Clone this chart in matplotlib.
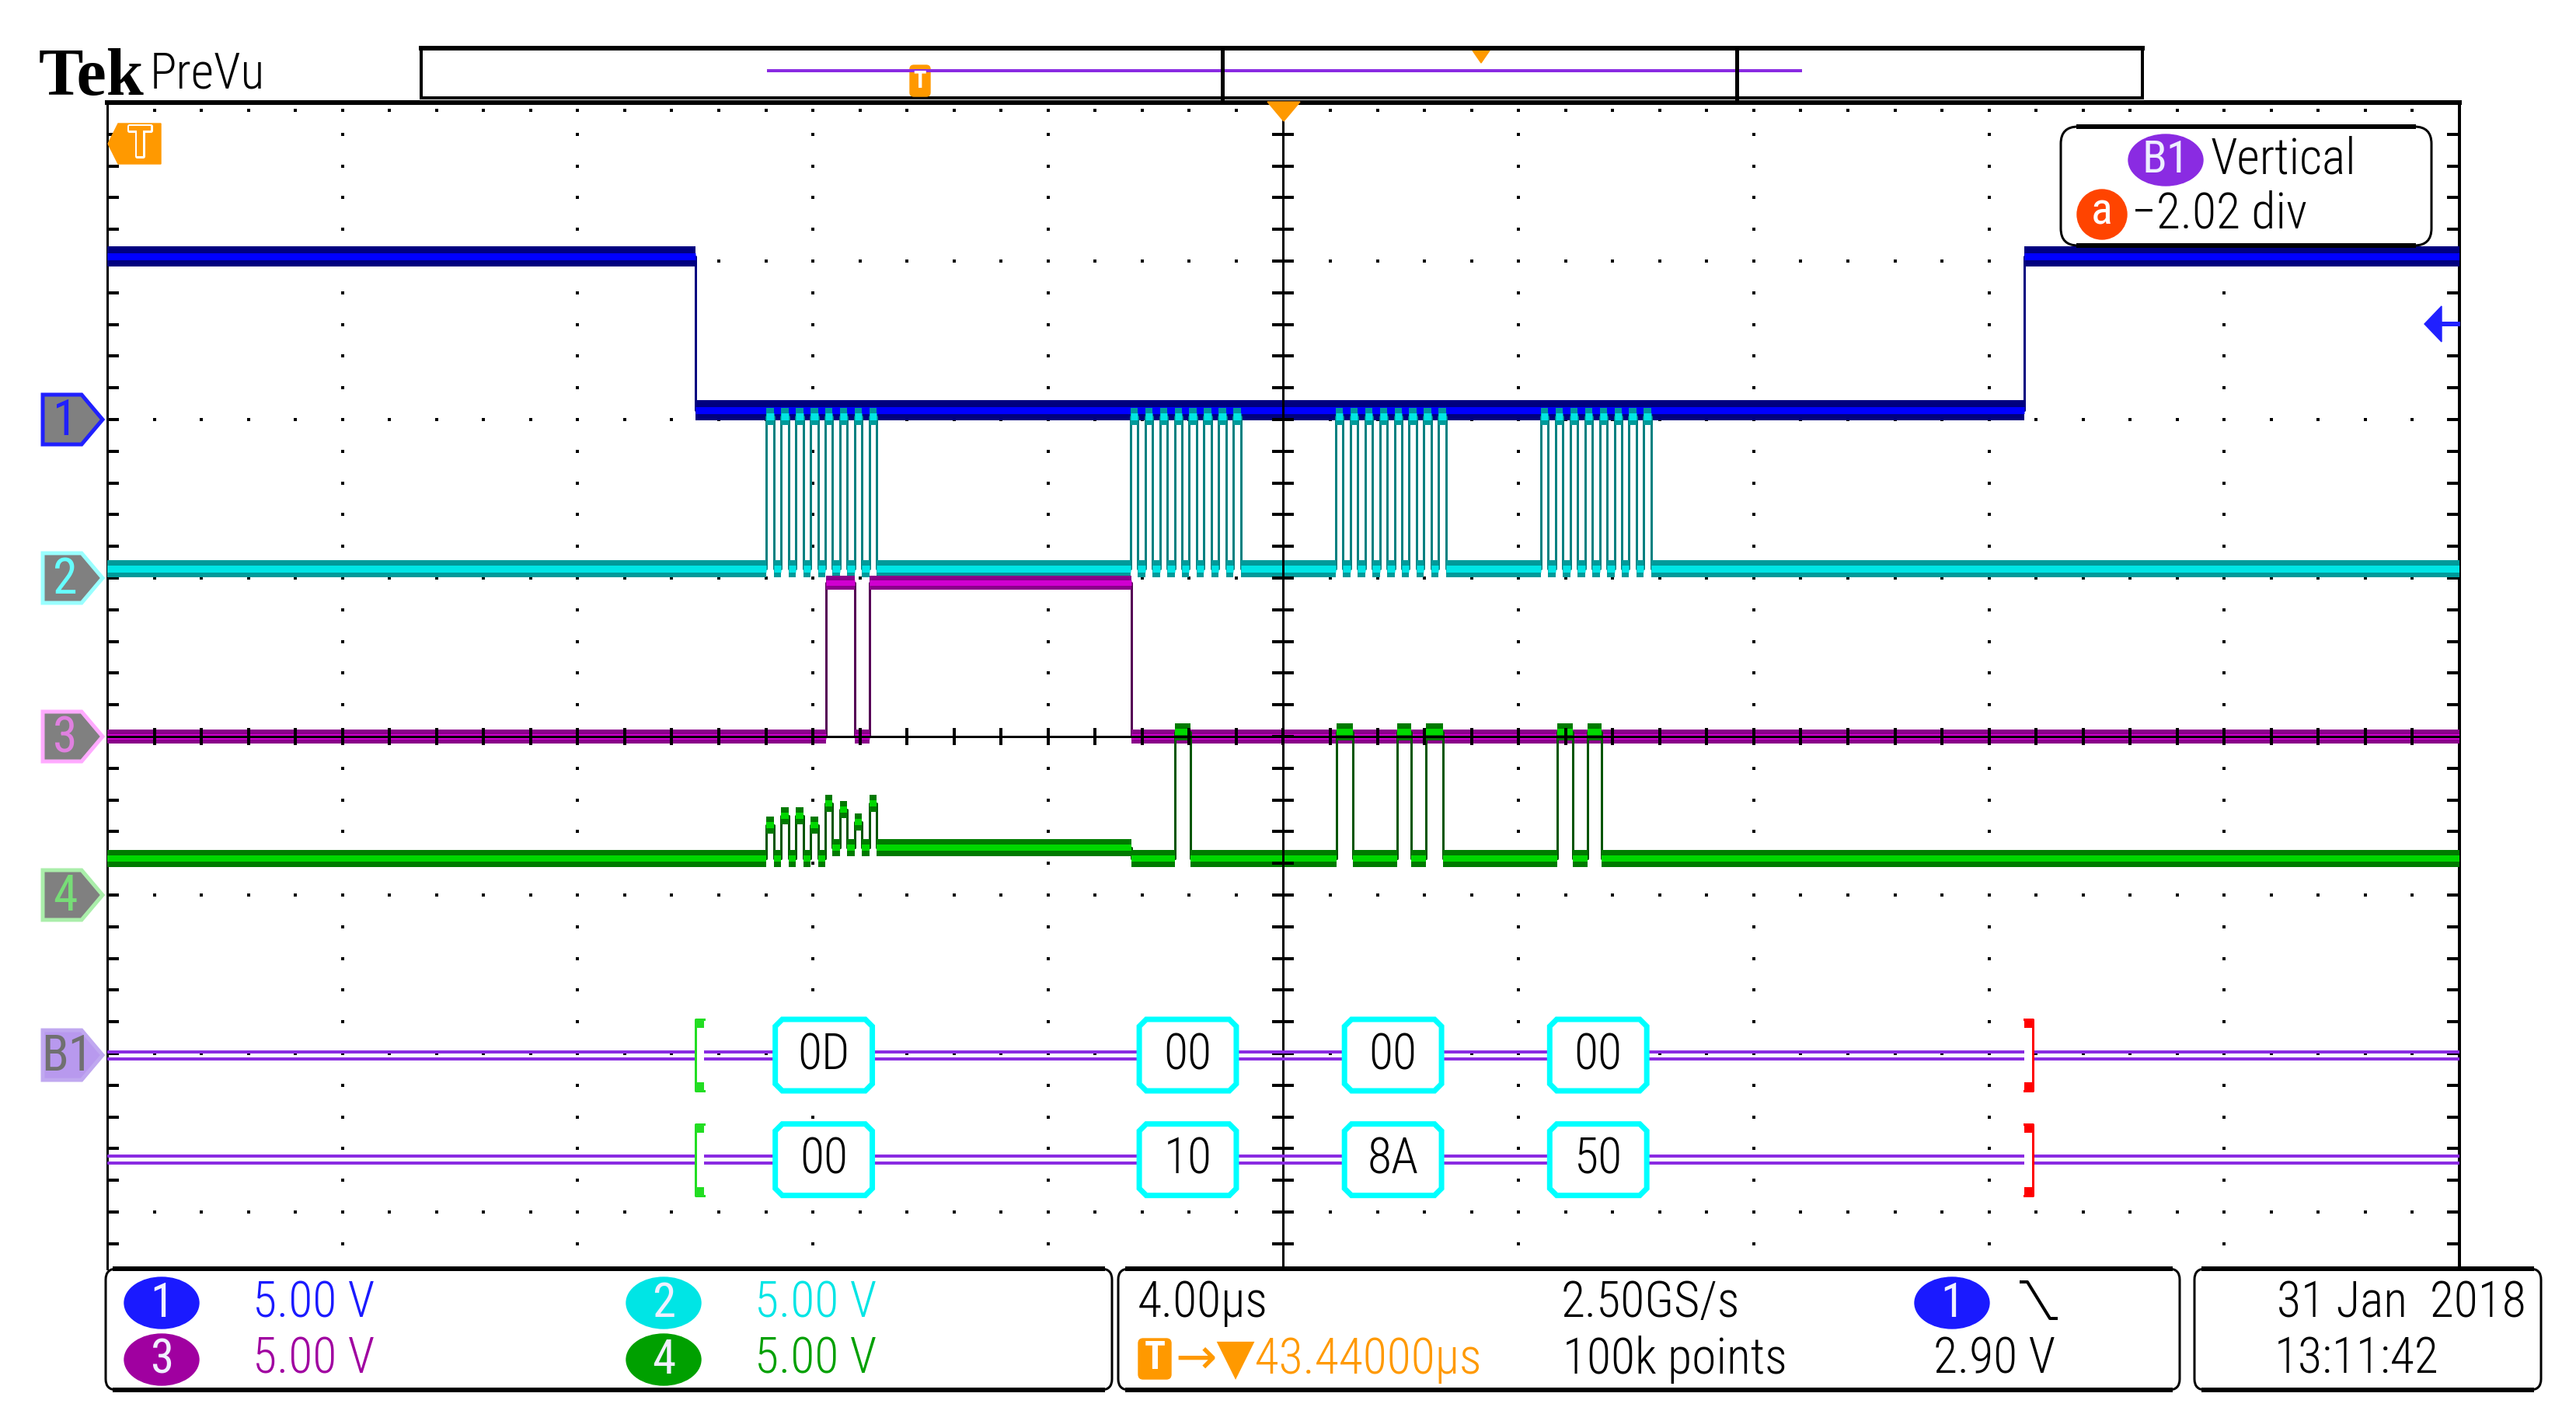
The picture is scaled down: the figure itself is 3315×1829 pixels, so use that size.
import matplotlib
matplotlib.use('Agg')
import matplotlib.pyplot as plt
import matplotlib.patheffects as pe
from matplotlib import font_manager
from matplotlib.patches import Polygon, Rectangle, Ellipse, FancyBboxPatch

W, H, DPI = 3316, 1829, 100

# ---- values: time in µs from screen centre, level in divisions ----
T_MIN, T_MAX = -20.0, 20.0

CS_EDGES_US = [-10.0, 12.6]            # ch1 falling / rising
CS_LEVELS_DIV = [3.03, 2.06, 3.03]

SCK_BURST_START_US = [-8.79, -2.60, 0.89, 4.38]   # ch2 first rising edge of each byte
SCK_PERIOD_US = 0.25
SCK_PULSES = 8
SCK_LOW_DIV = 1.06
SCK_HIGH_DIV = 2.02

MOSI_EDGES_US = [-7.78, -7.29, -7.04, -2.58]     # ch3
MOSI_LEVELS_DIV = [0.0, 0.97, 0.0, 0.97, 0.0]

MISO_PULSES_US = [(-1.84, -1.58), (0.91, 1.18), (1.93, 2.17),
                  (2.42, 2.71), (4.66, 4.92), (5.17, 5.41)]   # ch4
MISO_LOW_DIV = -0.77
MISO_IDLE_DIV = -0.70
MISO_HIGH_DIV = 0.03
MISO_XTALK_DIV = [-0.56, -0.50, -0.50, -0.56, -0.42, -0.46, -0.54, -0.42]

CH_OFFSET_DIV = [2.0, 1.0, 0.0, -1.0]
BUS_ROWS_DIV = [-2.01, -2.67]
MOSI_BYTES = ['0D', '00', '00', '00']
MISO_BYTES = ['00', '10', '8A', '50']
FRAME_US = (-10.0, 12.6)

CH_SCALE = ['5.00 V', '5.00 V', '5.00 V', '5.00 V']
TIMEBASE = '4.00µs'
SAMPLE_RATE = '2.50GS/s'
RECORD = '100k points'
TRIG_DELAY = '43.44000µs'
TRIG_LEVEL = '2.90 V'
DATE_STR = '31 Jan  2018'
TIME_STR = '13:11:42'
BUS_POS = '\u22122.02 div'

# scope readouts use a narrow face; take the first one that is installed
_have = {f.name for f in font_manager.fontManager.ttflist}
NARROW = [n for n in ['Roboto Condensed', 'PT Sans Narrow', 'Archivo Narrow',
                      'Liberation Sans Narrow'] if n in _have][:1] + ['DejaVu Sans']
CH_COL = ['#1a1aff', '#00e5e5', '#a000a0', '#00a000']
FS = 46
LW_TXT = 300   # thin readout text


def px(v):
    return v * 72.0 / DPI


def pieces_from_edges(edges, levels):
    b = [T_MIN] + list(edges) + [T_MAX]
    return [(b[i], b[i + 1], levels[i]) for i in range(len(levels))]


def draw_trace(ax, pieces, edge, outer, inner, w_out, w_in, w_edge, z):
    xs, ys = [], []
    for a, b, lv in pieces:
        xs += [a, b]
        ys += [lv, lv]
    ax.plot(xs, ys, color=edge, lw=px(w_edge), zorder=z)
    ax.hlines([p[2] for p in pieces], [p[0] for p in pieces], [p[1] for p in pieces],
              colors=outer, lw=px(w_out), zorder=z + 0.1)
    ax.hlines([p[2] for p in pieces], [p[0] for p in pieces], [p[1] for p in pieces],
              colors=inner, lw=px(w_in), zorder=z + 0.2)


fig = plt.figure(figsize=(W / DPI, H / DPI), dpi=DPI, facecolor='white')

# graticule
GX0, GX1, GY0, GY1 = 138, 3165, 132, 1633
DIV_PX = 204.0
ax = fig.add_axes([GX0 / W, 1 - GY1 / H, (GX1 - GX0) / W, (GY1 - GY0) / H], zorder=1)
ax.set_xlim(T_MIN, T_MAX)
ax.set_ylim(4 - (GY1 - GY0) / DIV_PX, 4)
ax.set_xticks([])
ax.set_yticks([])
ax.spines['bottom'].set_visible(False)
ax.spines['top'].set_linewidth(px(6))
ax.spines['left'].set_linewidth(px(3))
ax.spines['right'].set_linewidth(px(4))
us_px = (GX1 - GX0) / (T_MAX - T_MIN)

minor_x = [T_MIN + 0.8 * k for k in range(1, 50)]
minor_y = [-3.2 + 0.2 * k for k in range(0, 36)]
for yk in range(-3, 4):
    if yk == 0:
        continue
    ax.plot(minor_x, [yk] * len(minor_x), 's', color='black', ms=px(4), mew=0, zorder=2)
for xk in range(-16, 17, 4):
    if xk == 0:
        continue
    ax.plot([xk] * len(minor_y), minor_y, 's', color='black', ms=px(4), mew=0, zorder=2)
ax.plot(minor_x, [4 - 10 / DIV_PX] * len(minor_x), 's', color='black', ms=px(4), mew=0, zorder=2)
ax.plot([T_MIN + 8 / us_px] * len(minor_y), minor_y, '_', color='black', ms=px(14), mew=px(4), zorder=2)
ax.plot([T_MAX - 8 / us_px] * len(minor_y), minor_y, '_', color='black', ms=px(16), mew=px(4), zorder=2)

# traces
draw_trace(ax, pieces_from_edges(CS_EDGES_US, CS_LEVELS_DIV),
           '#000080', '#000080', '#0000ff', 26, 9, 3, 3)

sck = []
t = T_MIN
half = SCK_PERIOD_US / 2
for s in SCK_BURST_START_US:
    sck.append((t, s, SCK_LOW_DIV))
    for k in range(SCK_PULSES):
        r = s + k * SCK_PERIOD_US
        sck.append((r, r + half, SCK_HIGH_DIV))
        if k < SCK_PULSES - 1:
            sck.append((r + half, r + SCK_PERIOD_US, SCK_LOW_DIV))
    t = s + (SCK_PULSES - 1) * SCK_PERIOD_US + half
sck.append((t, T_MAX, SCK_LOW_DIV))
draw_trace(ax, sck, '#008080', '#009a9a', '#00e5e5', 22, 9, 3, 4)

draw_trace(ax, pieces_from_edges(MOSI_EDGES_US, MOSI_LEVELS_DIV),
           '#550055', '#8a008a', '#d000d0', 18, 7, 3, 5)

miso = []
s1 = SCK_BURST_START_US[0]
miso.append((T_MIN, s1, MISO_LOW_DIV))
for k, lv in enumerate(MISO_XTALK_DIV):
    r = s1 + k * SCK_PERIOD_US
    miso.append((r, r + half, lv))
    if k < SCK_PULSES - 1:
        miso.append((r + half, r + SCK_PERIOD_US, MISO_LOW_DIV if k < 4 else MISO_IDLE_DIV))
t = s1 + (SCK_PULSES - 1) * SCK_PERIOD_US + half
miso.append((t, MOSI_EDGES_US[-1], MISO_IDLE_DIV))
t = MOSI_EDGES_US[-1]
for a, b in MISO_PULSES_US:
    miso.append((t, a, MISO_LOW_DIV))
    miso.append((a, b, MISO_HIGH_DIV))
    t = b
miso.append((t, T_MAX, MISO_LOW_DIV))
draw_trace(ax, miso, '#005500', '#007a00', '#00d800', 22, 8, 3, 6)

# centre crosshair
ax.axvline(0, color='black', lw=px(3), zorder=8)
ax.axhline(0, color='black', lw=px(3), zorder=8)
ax.plot([0] * len(minor_y), minor_y, '_', color='black', ms=px(28), mew=px(4), zorder=8)
ax.plot(minor_x, [0] * len(minor_x), '|', color='black', ms=px(22), mew=px(4), zorder=8)

# bus decode rows
dy = 4.5 / DIV_PX
bh = 46 / DIV_PX
cx, cy = 9 / us_px, 9 / DIV_PX
tab_w, tab_h = 11 / us_px, 11 / DIV_PX
for row, labels in zip(BUS_ROWS_DIV, [MOSI_BYTES, MISO_BYTES]):
    for o in (-dy, dy):
        ax.hlines(row + o, T_MIN, T_MAX, colors='#8a2be2', lw=px(4), zorder=9)
    for s, lab in zip(SCK_BURST_START_US, labels):
        x0, x1 = s + 0.15, s + 1.80
        y0, y1 = row - bh, row + bh
        poly = Polygon([(x0 + cx, y1), (x1 - cx, y1), (x1, y1 - cy), (x1, y0 + cy),
                        (x1 - cx, y0), (x0 + cx, y0), (x0, y0 + cy), (x0, y1 - cy)],
                       closed=True, facecolor='white', edgecolor='#00ffff', lw=px(7), zorder=10)
        ax.add_patch(poly)
        ax.text((x0 + x1) / 2, row, lab, ha='center', va='center', fontsize=FS,
                family=NARROW, weight=LW_TXT, color='black', zorder=11)
    # start bracket (green) and end bracket (red)
    fs, fe = FRAME_US
    ax.add_patch(Rectangle((fs, row - bh), tab_w, 2 * bh, facecolor='white', edgecolor='none', zorder=10))
    ax.plot([fs + tab_w, fs, fs, fs + tab_w], [row + bh, row + bh, row - bh, row - bh],
            color='#22dd22', lw=px(3), zorder=11)
    for yy in (row + bh - tab_h, row - bh):
        ax.add_patch(Rectangle((fs, yy), tab_w, tab_h, facecolor='#22dd22', edgecolor='none', zorder=11))
    ax.add_patch(Rectangle((fe, row - bh), tab_w, 2 * bh, facecolor='white', edgecolor='none', zorder=10))
    ax.plot([fe, fe + tab_w, fe + tab_w, fe], [row + bh, row + bh, row - bh, row - bh],
            color='#ff0000', lw=px(3), zorder=11)
    for yy in (row + bh - tab_h, row - bh):
        ax.add_patch(Rectangle((fe, yy), tab_w, tab_h, facecolor='#ff0000', edgecolor='none', zorder=11))

# ---------------- screen furniture in pixel coordinates ----------------
ui = fig.add_axes([0, 0, 1, 1], zorder=5)
ui.set_xlim(0, W)
ui.set_ylim(H, 0)
ui.axis('off')
ui.patch.set_visible(False)


def to_px(t, d):
    X, Y = ax.transData.transform((t, d))
    return X, H - Y


def label(x, y, s, color='black', ha='left', size=FS):
    ui.text(x, y, s, ha=ha, va='center', fontsize=size, family=NARROW, weight=LW_TXT,
            color=color, zorder=8)


# header
ui.text(50, 122, 'Tek', family=['Liberation Serif', 'DejaVu Serif'], weight='bold',
        fontsize=62, color='black', ha='left', va='baseline')
ui.text(193, 114, 'PreVu', family=NARROW, weight=LW_TXT, fontsize=FS, color='black',
        ha='left', va='baseline')

# record view
ui.add_patch(Rectangle((542, 62), 2757 - 542, 64, facecolor='white', edgecolor='black', lw=px(4)))
ui.plot([542, 2757], [62, 62], color='black', lw=px(6))
ui.plot([989, 2317], [91, 91], color='#8a2be2', lw=px(4))
for xw in (1573, 2235):
    ui.plot([xw, xw], [62, 126], color='black', lw=px(5))
ui.add_patch(Polygon([(1895, 65), (1917, 65), (1906, 81)], closed=True, color='#ff9900'))
ui.add_patch(FancyBboxPatch((1171, 84), 26, 40, boxstyle='round,pad=0,rounding_size=5',
                            facecolor='#ff9900', edgecolor='#ff9900'))
ui.text(1184, 104, 'T', ha='center', va='center', fontsize=22, family=NARROW, color='white',
        weight='bold')

# trigger position markers
ui.add_patch(Polygon([(1631, 131), (1673, 131), (1652, 156)], closed=True, color='#ff9900', zorder=6))
ui.add_patch(Polygon([(139, 185), (152, 159), (207, 159), (207, 211), (152, 211)],
                     closed=True, color='#ff9900', zorder=6))
ui.text(180, 186, 'T', ha='center', va='center', fontsize=40, family=NARROW, color='#ff9900',
        weight='bold', zorder=7,
        path_effects=[pe.Stroke(linewidth=px(5), foreground='white'), pe.Normal()])

# trigger level arrow (right edge)
ui.add_patch(Polygon([(3120, 417), (3142, 394), (3142, 440)], closed=True, color='#2020ff', zorder=6))
ui.plot([3140, 3163], [417, 417], color='#2020ff', lw=px(6), zorder=6)

# channel ground markers on the left
mk_styles = [('1', '#808080', '#2020ff', '#2020ff'),
             ('2', '#808080', '#99ffff', '#66ffff'),
             ('3', '#808080', '#ffaaff', '#e080e0'),
             ('4', '#808080', '#aaeeaa', '#77dd77'),
             ('B1', '#b899ee', '#c0a8f0', '#707070')]
mk_levels = CH_OFFSET_DIV + [BUS_ROWS_DIV[0]]
for (lab, fill, edge, tc), lv in zip(mk_styles, mk_levels):
    _, yc = to_px(0, lv)
    ui.add_patch(Polygon([(55, yc - 32), (105, yc - 32), (132, yc), (105, yc + 32), (55, yc + 32)],
                         closed=True, facecolor=fill, edgecolor=edge, lw=px(5), zorder=6))
    ui.text(84 if lab != 'B1' else 86, yc + 2, lab, ha='center', va='center', fontsize=46,
            family=NARROW, color=tc, zorder=7)

# B1 vertical readout
ui.add_patch(FancyBboxPatch((2652, 163), 477, 153, boxstyle='round,pad=0,rounding_size=22',
                            facecolor='white', edgecolor='black', lw=px(3), zorder=6))
ui.plot([2675, 3106], [163, 163], color='black', lw=px(6), zorder=6)
ui.plot([2675, 3106], [316, 316], color='black', lw=px(6), zorder=6)
ui.add_patch(Ellipse((2787, 206), 96, 66, color='#8a2be2', zorder=7))
ui.text(2787, 207, 'B1', ha='center', va='center', fontsize=42, family=NARROW, color='#eeeeff', zorder=8)
label(2845, 206, 'Vertical')
ui.add_patch(Ellipse((2705, 276), 64, 64, color='#ff4400', zorder=7))
ui.text(2705, 273, 'a', ha='center', va='center', fontsize=42, family=NARROW, color='white', zorder=8)
label(2743, 276, BUS_POS)


# bottom readout boxes
def panel(x0, x1, y0=1633, y1=1789):
    ui.add_patch(FancyBboxPatch((x0, y0), x1 - x0, y1 - y0, boxstyle='round,pad=0,rounding_size=14',
                                facecolor='white', edgecolor='black', lw=px(3), zorder=6))
    ui.plot([x0 + 12, x1 - 12], [y0, y0], color='black', lw=px(6), zorder=6)
    ui.plot([x0 + 12, x1 - 12], [y1, y1], color='black', lw=px(6), zorder=6)


panel(136, 1431)
panel(1439, 2805)
panel(2824, 3270)

ROW1, ROW2 = 1677, 1750
badge_pos = [(208, ROW1), (854, ROW1), (208, ROW2), (854, ROW2)]
for i, ((bx, by), sc) in enumerate(zip(badge_pos, CH_SCALE)):
    ui.add_patch(Ellipse((bx, by), 96, 66, color=CH_COL[i], zorder=7))
    ui.text(bx, by + 1, str(i + 1), ha='center', va='center', fontsize=44, family=NARROW,
            color='#f0f0ff', zorder=8)
    label(bx + 117, by, sc, color=CH_COL[i])

label(1464, ROW1, TIMEBASE)
label(2009, ROW1, SAMPLE_RATE)
ui.add_patch(Ellipse((2512, ROW1), 96, 66, color=CH_COL[0], zorder=7))
ui.text(2512, ROW1 + 1, '1', ha='center', va='center', fontsize=44, family=NARROW, color='#f0f0ff', zorder=8)
ui.plot([2601, 2609, 2638, 2646], [1650, 1650, 1697, 1697], color='black', lw=px(4), zorder=8)

ui.add_patch(FancyBboxPatch((1465, 1723), 42, 52, boxstyle='round,pad=0,rounding_size=6',
                            facecolor='#ff9900', edgecolor='#ff9900', zorder=7))
ui.text(1486, 1749, 'T', ha='center', va='center', fontsize=36, family=NARROW, color='white',
        weight='bold', zorder=8)
label(1512, ROW2, '\u2192\u25bc' + TRIG_DELAY, color='#ff9900')
label(2011, ROW2, RECORD)
label(2488, ROW2, TRIG_LEVEL)

label(3251, ROW1, DATE_STR, ha='right')
label(2927, ROW2, TIME_STR)

fig.savefig('out.png', dpi=DPI, facecolor='white')
